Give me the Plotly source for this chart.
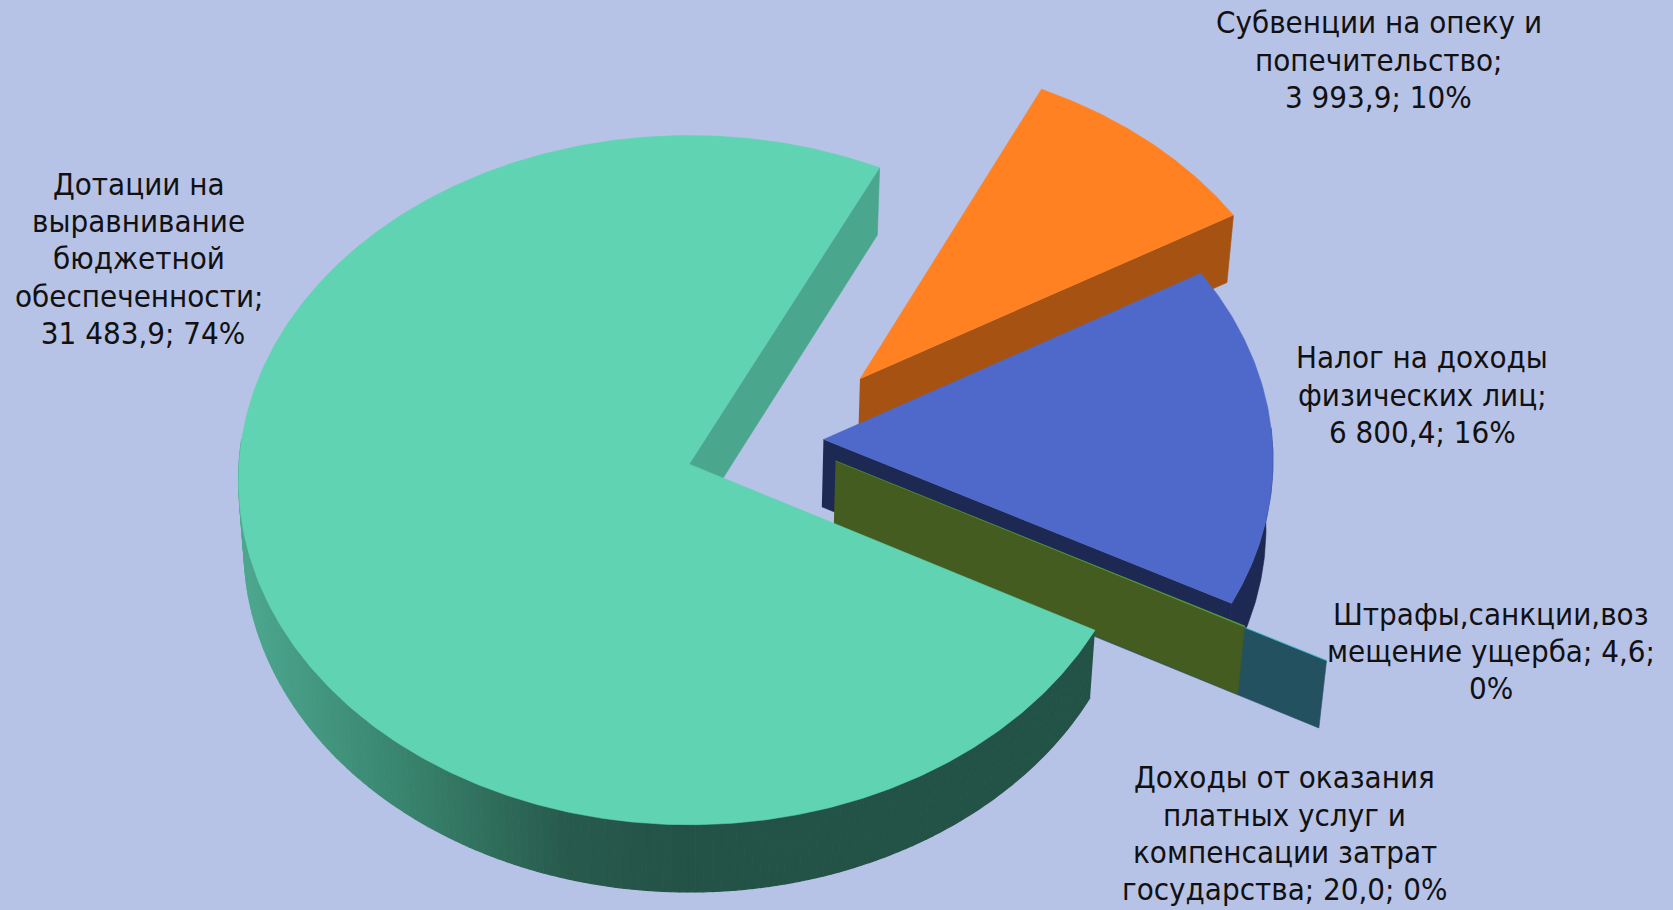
import numpy as np
import plotly.graph_objects as go

# ---- data ----
categories = ["Дотации на выравнивание бюджетной обеспеченности",
              "Субвенции на опеку и попечительство",
              "Налог на доходы физических лиц",
              "Штрафы,санкции,возмещение ущерба",
              "Доходы от оказания платных услуг и компенсации затрат государства"]
values = [31483.9, 3993.9, 6800.4, 4.6, 20.0]
labels = ["Дотации на<br>выравнивание<br>бюджетной<br>обеспеченности;<br> 31 483,9; 74%",
          "Субвенции на опеку и<br>попечительство;<br>3 993,9; 10%",
          "Налог на доходы<br>физических лиц;<br>6 800,4; 16%",
          "Штрафы,санкции,воз<br>мещение ущерба; 4,6;<br>0%",
          "Доходы от оказания<br>платных услуг и<br>компенсации затрат<br>государства; 20,0; 0%"]

# ---- styles and layout ----
label_pos = [(130, 242), (1292, 56), (1333, 370), (1397, 610), (1204, 781)]
top_colors = ["#60D3B2", "#FF8121", "#4F69CA", "#36C8D8", "#5BA03A"]
side_colors = ["#4AA78D", "#A65212", "#1D2853", "#245160", "#445C1F"]
# explosion of every slice on the disc plane (right, up; radius = 1)
explode = [(0, 0), (0.3836, 0.2505), (0.299, 0.0716), (0.496, -0.087), (0.325, 0.0093)]
BG = "#B7C2E7"
W, H = 1673, 910
XMAX, YMAX = 1568, 1568 * H / W
CX, CY, RX, RY, K = 646, 435, 422, 322.3, 0.0464
START, DEPTH, SHRINK = 118.2, 63, 0.988
FONT_FAMILY, FONT_SIZE, LINE_STEP = "DejaVu Sans Condensed", 31, 35
GRADIENT = [(240, (0x4C, 0xA8, 0x8F)), (420, (0x37, 0x80, 0x6A)),
            (560, (0x28, 0x5B, 0x4D)), (680, (0x23, 0x52, 0x46))]


def project(u, v, low=False):
    """Disc plane to the picture, with a little perspective."""
    u, v = np.asarray(u, float), np.asarray(v, float)
    d = 1 + K * v
    x = CX + RX * u / d
    y = CY - RY * v / d
    if low:
        x = CX + (x - CX) * SHRINK
        y = y + DEPTH
    return x, y


def arc(a0, a1, off, n=None):
    n = n or max(2, int(abs(a1 - a0) * 2))
    t = np.radians(np.linspace(a0, a1, n))
    return off[0] + np.sin(t), off[1] + np.cos(t)


def poly(fig, xs, ys, color, width=0.6):
    fig.add_trace(go.Scatter(x=np.asarray(xs), y=np.asarray(ys), mode="lines", fill="toself",
                             fillcolor=color, line=dict(color=color, width=width),
                             hoverinfo="skip", showlegend=False))


def top(fig, i, a0, a1):
    u, v = arc(a0, a1, explode[i])
    x, y = project(np.r_[explode[i][0], u], np.r_[explode[i][1], v])
    poly(fig, x, y, top_colors[i])


def side_radial(fig, i, a):
    """Flat cut face of a slice at angle a."""
    off = explode[i]
    t = np.radians(a)
    u = np.array([off[0], off[0] + np.sin(t)])
    v = np.array([off[1], off[1] + np.cos(t)])
    xt, yt = project(u, v)
    xb, yb = project(u, v, low=True)
    poly(fig, np.r_[xt, xb[::-1]], np.r_[yt, yb[::-1]], side_colors[i])


def side_arc(fig, i, a0, a1, color=None, width=0.6):
    """Outer rim of a slice between two angles."""
    u, v = arc(a0, a1, explode[i])
    xt, yt = project(u, v)
    xb, yb = project(u, v, low=True)
    poly(fig, np.r_[xt, xb[::-1]], np.r_[yt, yb[::-1]], color or side_colors[i], width)


def shade(x):
    xs = [g[0] for g in GRADIENT]
    rgb = [np.interp(x, xs, [g[1][c] for g in GRADIENT]) for c in range(3)]
    return "rgb(%d,%d,%d)" % tuple(int(round(c)) for c in rgb)


spans = np.array(values) / sum(values) * 360
ends = START + np.cumsum(spans)
begins = ends - spans

fig = go.Figure()

# orange slice
side_radial(fig, 1, ends[1])
top(fig, 1, begins[1], ends[1])
# blue slice
side_radial(fig, 2, ends[2])
side_arc(fig, 2, ends[2] - 30, ends[2])
top(fig, 2, begins[2], ends[2])
# the two hair-thin slices show almost only their cut faces
side_radial(fig, 3, ends[3])
top(fig, 3, begins[3], ends[3])
side_radial(fig, 4, ends[4])
top(fig, 4, begins[4], ends[4])
# large slice: inner cut face, shaded rim, top
side_radial(fig, 0, ends[0])
edges = np.arange(START, 275, 1.0)
for a0, a1 in zip(edges[:-1], edges[1:]):
    xm, _ = project(*arc(a0, a1, explode[0], 2))
    side_arc(fig, 0, a0, a1, shade(xm.mean() * W / XMAX), width=1.2)
top(fig, 0, begins[0], ends[0])

annotations = []
for p, t in zip(label_pos, labels):
    rows = t.split("<br>")
    for j, row in enumerate(rows):
        annotations.append(dict(x=p[0], y=p[1] + (j - (len(rows) - 1) / 2) * LINE_STEP, text=row,
                                showarrow=False, xanchor="center", yanchor="middle", align="center",
                                font=dict(family=FONT_FAMILY, size=FONT_SIZE, color="#111111")))

fig.update_layout(width=W, height=H, margin=dict(l=0, r=0, t=0, b=0), autosize=False,
                  paper_bgcolor=BG, plot_bgcolor=BG, showlegend=False, annotations=annotations,
                  xaxis=dict(range=[0, XMAX], visible=False, fixedrange=True),
                  yaxis=dict(range=[YMAX, 0], visible=False, fixedrange=True))
fig.write_html("out.html", config=dict(displayModeBar=False),
               post_script="document.body.style.margin='0';document.body.style.background='%s';" % BG)
